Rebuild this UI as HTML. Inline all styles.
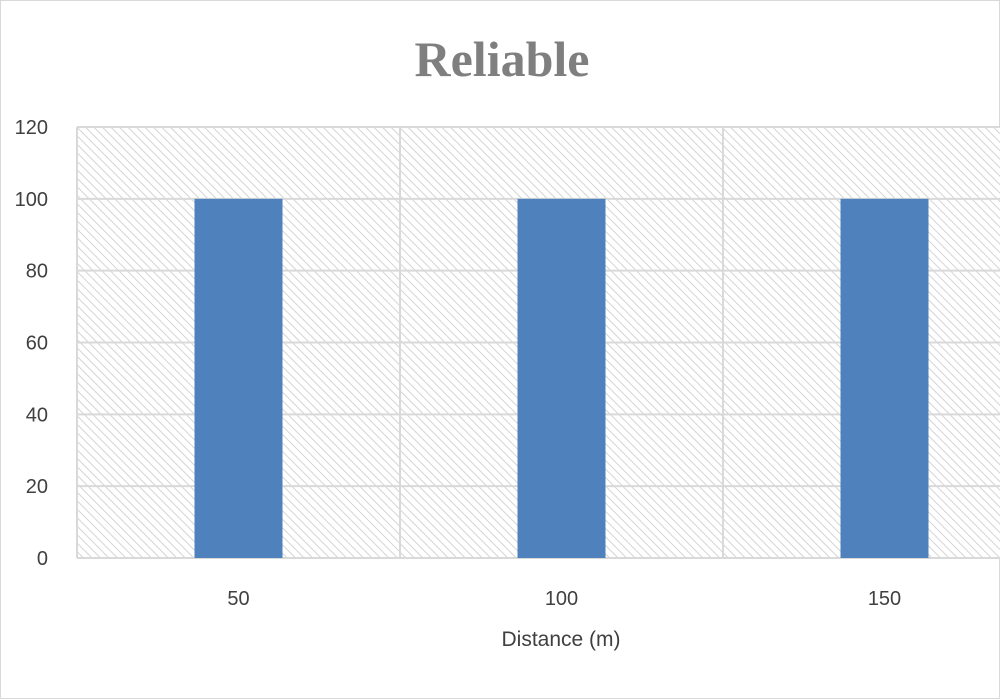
<!DOCTYPE html>
<html><head><meta charset="utf-8"><style>
html,body{margin:0;padding:0;background:#fff;}
svg{display:block;font-family:"Liberation Sans",sans-serif;}
</style></head><body>
<svg id="chart" width="1000" height="700">
<defs>
<pattern id="hatch" width="6" height="6" patternUnits="userSpaceOnUse" patternTransform="rotate(-45)">
<rect width="6" height="6" fill="#fff"/>
<line x1="0" y1="0" x2="0" y2="6" stroke="#d4d4d4" stroke-width="2"/>
</pattern>
</defs>
<rect x="0.5" y="0.5" width="999" height="698" fill="#fff" stroke="#d9d9d9"/>
<text x="502" y="76" text-anchor="middle" font-family="Liberation Serif,serif" font-weight="bold" font-size="50" fill="#7f7f7f">Reliable</text>
<rect x="77" y="127" width="930" height="431" fill="url(#hatch)"/>
<g id="grid"></g>
<g id="bars"></g>
<g id="labels"></g>
<text x="561" y="646" text-anchor="middle" font-size="21" fill="#404040">Distance (m)</text>
</svg>
<script>
const categories = ["50","100","150"];
const values = [100,100,100];
const yTicks = [0,20,40,60,80,100,120];
const X0=77, CW=323, Y0=558, YTOP=127, YMAX=120;
const ns="http://www.w3.org/2000/svg";
function y(v){return Y0-(v/YMAX)*(Y0-YTOP);}
function x(i){return X0+CW*i+CW/2;}
const grid=document.getElementById('grid'), bars=document.getElementById('bars'), labels=document.getElementById('labels');
yTicks.forEach(t=>{
  const l=document.createElementNS(ns,'line');
  l.setAttribute('x1',X0);l.setAttribute('x2',1000);l.setAttribute('y1',y(t));l.setAttribute('y2',y(t));
  l.setAttribute('stroke','#d9d9d9');l.setAttribute('stroke-width','2');
  
  
  grid.appendChild(l);
  const tx=document.createElementNS(ns,'text');
  tx.setAttribute('x',48);tx.setAttribute('y',y(t)+7);tx.setAttribute('text-anchor','end');
  tx.setAttribute('font-size','20');tx.setAttribute('fill','#404040');tx.textContent=t;
  
  
  labels.appendChild(tx);
});
for(let i=0;i<=categories.length;i++){
  const l=document.createElementNS(ns,'line');
  const xx=X0+CW*i;
  l.setAttribute('x1',xx);l.setAttribute('x2',xx);l.setAttribute('y1',YTOP);l.setAttribute('y2',Y0);
  l.setAttribute('stroke','#d9d9d9');l.setAttribute('stroke-width','2');
  
  
  grid.appendChild(l);
}
categories.forEach((c,i)=>{
  const r=document.createElementNS(ns,'rect');
  r.setAttribute('x',x(i)-44);r.setAttribute('width',88);
  r.setAttribute('y',y(values[i]));r.setAttribute('height',Y0-y(values[i]));
  r.setAttribute('fill','#4f81bd');
  
  
  bars.appendChild(r);
  const tx=document.createElementNS(ns,'text');
  tx.setAttribute('x',x(i));tx.setAttribute('y',605);tx.setAttribute('text-anchor','middle');
  tx.setAttribute('font-size','20');tx.setAttribute('fill','#404040');tx.textContent=c;
  
  
  labels.appendChild(tx);
});
</script>
</body></html>
